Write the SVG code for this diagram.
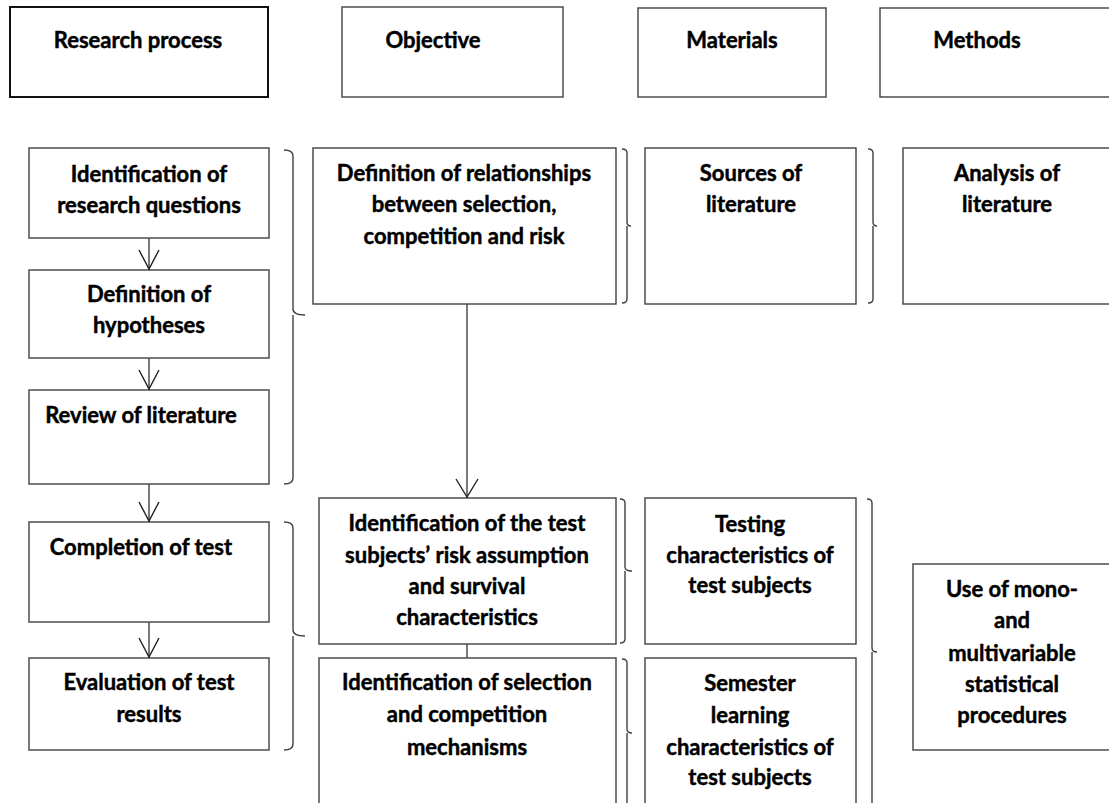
<svg xmlns="http://www.w3.org/2000/svg" width="1109" height="803" viewBox="0 0 1109 803">
  <style>
    .box { fill: #ffffff; stroke: #404040; stroke-width: 1.4; }
    .box-strong { fill: #ffffff; stroke: #111111; stroke-width: 2; }
    .lbl { font-family: Lato, "Liberation Sans", sans-serif; font-weight: bold; font-size: 22px; fill: #000000; stroke: #000000; stroke-width: 0.45; text-anchor: middle; }
    .brace { fill: none; stroke: #404040; stroke-width: 1.4; }
    .link { fill: none; stroke: #404040; stroke-width: 1.4; }
    .head { fill: none; stroke: #202020; stroke-width: 1.4; }
  </style>

  <!-- column headers -->
  <g id="hdr-research">
    <rect class="box-strong" x="10" y="7" width="258" height="90"/>
    <text class="lbl" x="138" y="48">Research process</text>
  </g>
  <g id="hdr-objective">
    <rect class="box" x="342" y="7" width="221" height="90"/>
    <text class="lbl" x="433" y="48">Objective</text>
  </g>
  <g id="hdr-materials">
    <rect class="box" x="638" y="8" width="188" height="89"/>
    <text class="lbl" x="732" y="48">Materials</text>
  </g>
  <g id="hdr-methods">
    <rect class="box" x="880" y="8" width="240" height="89"/>
    <text class="lbl" x="977" y="48">Methods</text>
  </g>

  <!-- research process steps -->
  <g id="step-questions">
    <rect class="box" x="29" y="148" width="240" height="90"/>
    <text class="lbl" x="149" y="182">Identification of</text>
    <text class="lbl" x="149" y="213">research questions</text>
  </g>
  <g id="step-hypotheses">
    <rect class="box" x="29" y="270" width="240" height="88"/>
    <text class="lbl" x="149" y="302">Definition of</text>
    <text class="lbl" x="149" y="333">hypotheses</text>
  </g>
  <g id="step-review">
    <rect class="box" x="29" y="390" width="240" height="94"/>
    <text class="lbl" x="141" y="423">Review of literature</text>
  </g>
  <g id="step-test">
    <rect class="box" x="29" y="522" width="240" height="100"/>
    <text class="lbl" x="141" y="555">Completion of test</text>
  </g>
  <g id="step-evaluation">
    <rect class="box" x="29" y="658" width="240" height="92"/>
    <text class="lbl" x="149" y="690">Evaluation of test</text>
    <text class="lbl" x="149" y="722">results</text>
  </g>

  <!-- objectives -->
  <g id="obj-relationships">
    <rect class="box" x="313" y="148" width="303" height="156"/>
    <text class="lbl" x="464" y="181">Definition of relationships</text>
    <text class="lbl" x="464" y="212">between selection,</text>
    <text class="lbl" x="464" y="244">competition and risk</text>
  </g>
  <g id="obj-risk">
    <rect class="box" x="319" y="498" width="297" height="146"/>
    <text class="lbl" x="467" y="531">Identification of the test</text>
    <text class="lbl" x="467" y="563">subjects’ risk assumption</text>
    <text class="lbl" x="467" y="594">and survival</text>
    <text class="lbl" x="467" y="625">characteristics</text>
  </g>
  <g id="obj-selection">
    <rect class="box" x="319" y="658" width="297" height="160"/>
    <text class="lbl" x="467" y="690">Identification of selection</text>
    <text class="lbl" x="467" y="722">and competition</text>
    <text class="lbl" x="467" y="755">mechanisms</text>
  </g>

  <!-- materials -->
  <g id="mat-sources">
    <rect class="box" x="645" y="148" width="211" height="156"/>
    <text class="lbl" x="751" y="181">Sources of</text>
    <text class="lbl" x="751" y="212">literature</text>
  </g>
  <g id="mat-testing">
    <rect class="box" x="645" y="498" width="211" height="146"/>
    <text class="lbl" x="750" y="532">Testing</text>
    <text class="lbl" x="750" y="563">characteristics of</text>
    <text class="lbl" x="750" y="593">test subjects</text>
  </g>
  <g id="mat-semester">
    <rect class="box" x="645" y="658" width="211" height="160"/>
    <text class="lbl" x="750" y="691">Semester</text>
    <text class="lbl" x="750" y="723">learning</text>
    <text class="lbl" x="750" y="755">characteristics of</text>
    <text class="lbl" x="750" y="785">test subjects</text>
  </g>

  <!-- methods -->
  <g id="meth-analysis">
    <rect class="box" x="903" y="148" width="220" height="156"/>
    <text class="lbl" x="1007" y="181">Analysis of</text>
    <text class="lbl" x="1007" y="212">literature</text>
  </g>
  <g id="meth-statistics">
    <rect class="box" x="913" y="564" width="210" height="186"/>
    <text class="lbl" x="1012" y="597">Use of mono-</text>
    <text class="lbl" x="1012" y="628">and</text>
    <text class="lbl" x="1012" y="661">multivariable</text>
    <text class="lbl" x="1012" y="692">statistical</text>
    <text class="lbl" x="1012" y="723">procedures</text>
  </g>

  <!-- connectors and grouping braces -->
  <g id="connectors">
    <!-- research process flow -->
    <line class="link" x1="149" y1="238" x2="149" y2="270"/>
    <polyline class="head" points="139,250 149,269 159,250"/>
    <line class="link" x1="149" y1="358" x2="149" y2="390"/>
    <polyline class="head" points="139,370 149,389 159,370"/>
    <line class="link" x1="149" y1="484" x2="149" y2="522"/>
    <polyline class="head" points="139,502 149,521 159,502"/>
    <line class="link" x1="149" y1="622" x2="149" y2="658"/>
    <polyline class="head" points="139,638 149,657 159,638"/>

    <!-- objective flow -->
    <line class="link" x1="467" y1="304" x2="467" y2="498"/>
    <polyline class="head" points="456,479 467,497 478,479"/>
    <line class="link" x1="467" y1="644" x2="467" y2="658"/>

    <!-- braces: research process groups -->
    <path class="brace" d="M284,150 Q293,150 293,156 L293,309 Q293,315 305,315 M293,315 L293,478 Q293,484 284,484"/>
    <path class="brace" d="M284,522 Q293,522 293,528 L293,630 Q293,636 305,636 M293,636 L293,744 Q293,750 284,750"/>

    <!-- braces: objective rows -->
    <path class="brace" d="M622,149 Q627,149 627,153 L627,222 Q627,226 631,226 M627,226 L627,299 Q627,303 622,303"/>
    <path class="brace" d="M620,499 Q625,499 625,503 L625,567 Q625,571 632,571 M625,571 L625,639 Q625,643 620,643"/>
    <path class="brace" d="M622,659 Q627,659 627,663 L627,729 Q627,733 632,733 M627,733 L627,810"/>

    <!-- braces: materials -->
    <path class="brace" d="M868,149 Q873,149 873,153 L873,222 Q873,226 877,226 M873,226 L873,299 Q873,303 868,303"/>
    <path class="brace" d="M867,499 Q872,499 872,503 L872,648 Q872,652 877,652 M872,652 L872,810"/>
  </g>
</svg>
